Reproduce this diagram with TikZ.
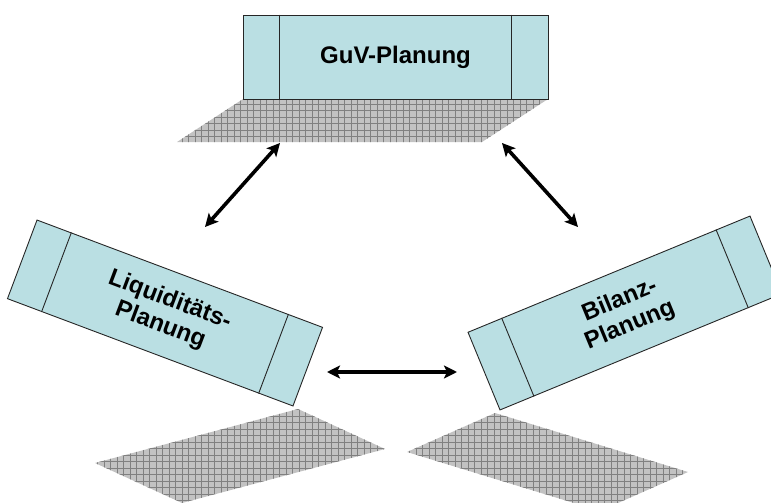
\documentclass[tikz,border=0pt]{standalone}
\usepackage{fontspec}
\setmainfont{Liberation Sans}
\usetikzlibrary{arrows.meta,calc}

\definecolor{boxfill}{RGB}{186,223,227}
\definecolor{floorfill}{RGB}{194,194,194}
\definecolor{floorgrid}{RGB}{128,128,128}

\tikzset{
  planbox/.style={draw=black!85, line width=0.9pt, fill=boxfill,
    minimum width=305pt, minimum height=84pt, inner sep=0pt, align=center,
    font=\bfseries\fontsize{24}{27}\selectfont},
  divider/.style={draw=black!85, line width=0.9pt},
  link/.style={line width=3.6pt,
    {Stealth[length=13pt,width=13pt,inset=3pt]}-{Stealth[length=13pt,width=13pt,inset=3pt]}}
}

% checkered floor under a box: grey parallelogram with a fine grid
\newcommand\checkerfloor[4]{%
  \begin{scope}
    \clip #1 -- #2 -- #3 -- #4 -- cycle;
    \fill[floorfill] (0,0) rectangle (771,520);
    \draw[floorgrid, line width=0.45pt, step=6.5pt] (0,0) grid (771,520);
  \end{scope}}

\begin{document}
\begin{tikzpicture}[x=1pt, y=-1pt]
  \clip (0,0) rectangle (771,503);
  \useasboundingbox (0,0) rectangle (771,503);

  % floors
  \checkerfloor{(243,99)}{(548,99)}{(482,142)}{(177,142)}
  \checkerfloor{(95,463)}{(298,409)}{(385,449)}{(182,503)}
  \checkerfloor{(407,452)}{(495,413)}{(688,472)}{(600,511)}

  % planning boxes
  \node[planbox] (guv) at (395.5,57) {GuV-Planung};
  \node[planbox, rotate=-20.6] (liq) at (165,313) {Liquiditäts-\\Planung};
  \node[planbox, rotate=22.4] (bil) at (625,313) {Bilanz-\\Planung};

  % side panels of each box
  \foreach \b in {guv,liq,bil} {
    \draw[divider] ($(\b.north west)!37pt!(\b.north east)$) -- ($(\b.south west)!37pt!(\b.south east)$);
    \draw[divider] ($(\b.north east)!37pt!(\b.north west)$) -- ($(\b.south east)!37pt!(\b.south west)$);
  }

  % connector ends
  \coordinate (guvL) at (280,143);
  \coordinate (liqT) at (205,227);
  \coordinate (guvR) at (502,143);
  \coordinate (bilT) at (578,227);
  \coordinate (liqR) at (327,372);
  \coordinate (bilL) at (457,372);

  \draw[link] (guvL) -- (liqT);
  \draw[link] (guvR) -- (bilT);
  \draw[link] (liqR) -- (bilL);
\end{tikzpicture}
\end{document}
